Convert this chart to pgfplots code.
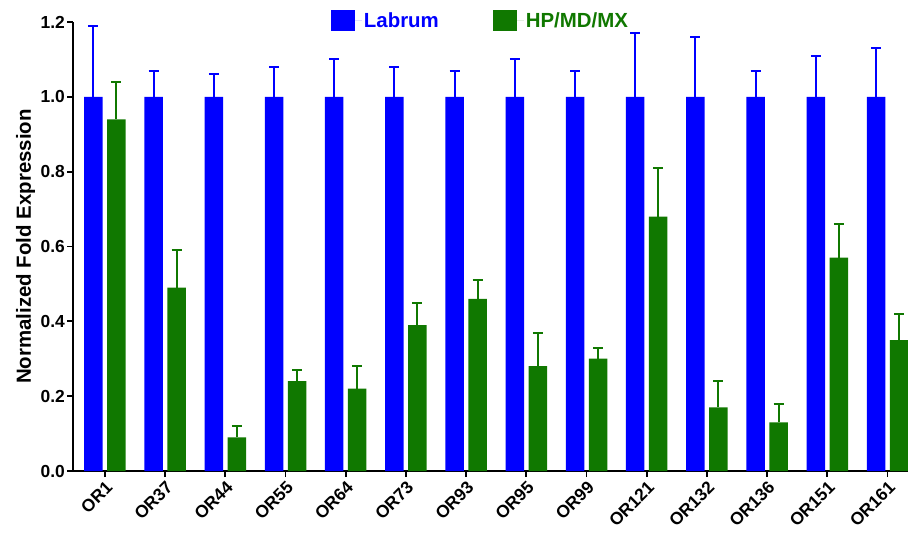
\documentclass[border=0pt]{standalone}
\usepackage{pgfplots}
\pgfplotsset{compat=1.18}
\usepackage{fontspec}
\setmainfont{Liberation Sans}
\definecolor{lab}{RGB}{0,0,255}
\definecolor{hp}{RGB}{16,120,0}

\pgfplotstableread{
x y e
0 1.00 0.19
1 1.00 0.07
2 1.00 0.06
3 1.00 0.08
4 1.00 0.10
5 1.00 0.08
6 1.00 0.07
7 1.00 0.10
8 1.00 0.07
9 1.00 0.17
10 1.00 0.16
11 1.00 0.07
12 1.00 0.11
13 1.00 0.13
}\labrum
\pgfplotstableread{
x y e
0 0.94 0.10
1 0.49 0.10
2 0.09 0.03
3 0.24 0.03
4 0.22 0.06
5 0.39 0.06
6 0.46 0.05
7 0.28 0.09
8 0.30 0.03
9 0.68 0.13
10 0.17 0.07
11 0.13 0.05
12 0.57 0.09
13 0.35 0.07
}\hpmdmx

\begin{document}
\begin{tikzpicture}
\begin{axis}[
  scale only axis, width=835bp, height=449bp,
  xmin=-0.53, xmax=13.34, ymin=0, ymax=1.2,
  axis lines*=left,
  axis line style={line width=1.8bp, black},
  ybar=4.5bp, bar width=18.5bp,
  xtick={0,...,13},
  xticklabels={OR1,OR37,OR44,OR55,OR64,OR73,OR93,OR95,OR99,OR121,OR132,OR136,OR151,OR161},
  x tick label style={rotate=45, anchor=north east, inner sep=2bp, font=\bfseries\fontsize{17.5}{17.5}\selectfont},
  ytick={0,0.2,0.4,0.6,0.8,1.0,1.2},
  y tick label style={font=\bfseries\fontsize{17.5}{17.5}\selectfont, inner sep=2bp},
  yticklabel style={/pgf/number format/.cd, fixed, fixed zerofill, precision=1, assume math mode=true},
  tick style={line width=1.8bp, black},
  tick align=outside, major tick length=6bp,
  ylabel={Normalized Fold Expression},
  ylabel style={font=\bfseries\fontsize{20.5}{20.5}\selectfont},
  legend style={at={(0.488,1)}, anchor=center, yshift=1.5bp, draw=none, fill=none,
    legend columns=2, font=\bfseries\fontsize{20.5}{20.5}\selectfont,
    /tikz/every even column/.append style={column sep=52bp}},
  legend cell align=left,
]
\addplot[fill=lab, draw=none,
  legend image code/.code={\fill[lab] (0bp,-10.5bp) rectangle (24bp,10.5bp); \path (24bp,0) -- (31bp,0);},
  error bars/.cd, y dir=plus, y explicit,
  error bar style={draw=lab, line width=2bp},
  error mark options={rotate=90, draw=lab, mark size=5bp, line width=2bp}]
  table[x=x, y=y, y error=e] {\labrum};
\addplot[fill=hp, draw=none,
  legend image code/.code={\fill[hp] (0bp,-10.5bp) rectangle (24bp,10.5bp); \path (24bp,0) -- (31bp,0);},
  error bars/.cd, y dir=plus, y explicit,
  error bar style={draw=hp, line width=2bp},
  error mark options={rotate=90, draw=hp, mark size=5bp, line width=2bp}]
  table[x=x, y=y, y error=e] {\hpmdmx};
\legend{\textcolor{lab}{Labrum}, \textcolor{hp}{HP/MD/MX}}
\coordinate (O) at (rel axis cs:0,0);
\end{axis}
\pgfresetboundingbox
\path ([shift={(-73bp,-62bp)}]O) rectangle ([shift={(835bp,471bp)}]O);
\end{tikzpicture}
\end{document}
